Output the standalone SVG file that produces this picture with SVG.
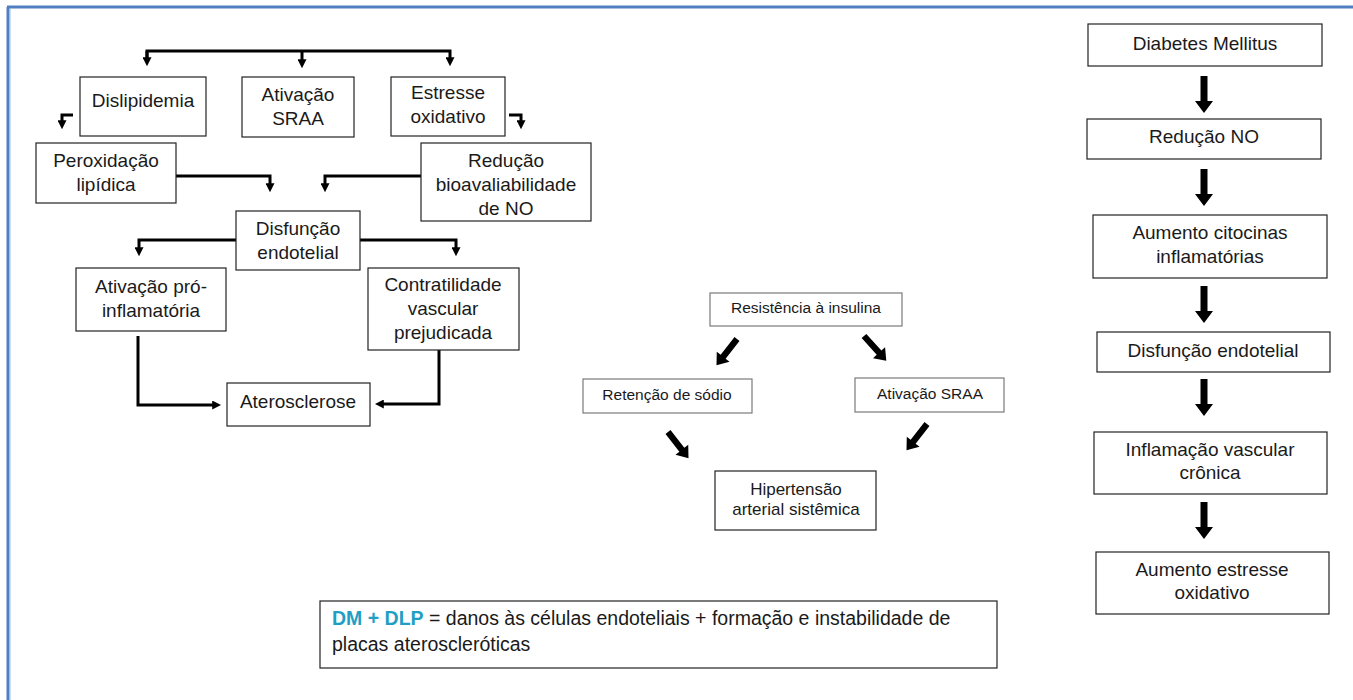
<svg xmlns="http://www.w3.org/2000/svg" xmlns:xlink="http://www.w3.org/1999/xlink" width="1353" height="700" viewBox="0 0 1353 700">
<style>
  .box { fill: #ffffff; stroke: #222222; stroke-width: 1.2; }
  .gbox { fill: #ffffff; stroke: #7a7a7a; stroke-width: 1.2; }
  .t { font-family: "Liberation Sans", Arial, sans-serif; font-size: 19px; fill: #1a1a1a; text-anchor: middle; }
  .ts { font-family: "Liberation Sans", Arial, sans-serif; font-size: 15.5px; fill: #1a1a1a; text-anchor: middle; }
  .tm { font-family: "Liberation Sans", Arial, sans-serif; font-size: 17px; fill: #1a1a1a; text-anchor: middle; }
  .tl { font-family: "Liberation Sans", Arial, sans-serif; font-size: 19.5px; fill: #1a1a1a; }
  .con { fill: none; stroke: #000000; stroke-width: 3; }
  .blk { fill: #000000; }
</style>
<defs>
  <marker id="ah" viewBox="0 0 10 10" refX="2" refY="5" markerWidth="9" markerHeight="9" markerUnits="userSpaceOnUse" orient="auto">
    <path d="M0,0 L10,5 L0,10 z" fill="#000"/>
  </marker>
  <polygon id="down" points="-3.5,0 3.5,0 3.5,25 9,25 0,37 -9,25 -3.5,25"/>
</defs>
<rect width="1353" height="700" fill="#ffffff"/>
<g id="frame">
  <line x1="8" y1="7" x2="8" y2="700" stroke="#4f7fc0" stroke-width="3"/>
  <line x1="7" y1="7" x2="1353" y2="7" stroke="#4f7fc0" stroke-width="3"/>
  <line x1="10" y1="9" x2="10" y2="700" stroke="#9dbde6" stroke-width="1"/>
</g>

<g id="connectors">
  <path class="con" d="M147,62 L147,51 L450,51 L450,59" marker-end="url(#ah)"/>
  <path class="con" d="M147,51 L147,59" marker-end="url(#ah)"/>
  <path class="con" d="M302,51 L302,61" marker-end="url(#ah)"/>
  <path class="con" d="M73,115 L62,115 L62,122" marker-end="url(#ah)"/>
  <path class="con" d="M509,115 L521,115 L521,122" marker-end="url(#ah)"/>
  <path class="con" d="M176,176 L270,176 L270,185" marker-end="url(#ah)"/>
  <path class="con" d="M421,176 L325,176 L325,185" marker-end="url(#ah)"/>
  <path class="con" d="M236,240 L139,240 L139,249" marker-end="url(#ah)"/>
  <path class="con" d="M360,240 L456,240 L456,249" marker-end="url(#ah)"/>
  <path class="con" d="M138,336 L138,405 L214,405" marker-end="url(#ah)"/>
  <path class="con" d="M439,350 L439,404 L382,404" marker-end="url(#ah)"/>
  <use xlink:href="#down" class="blk" transform="translate(737,339) rotate(38) scale(0.9)"/>
  <use xlink:href="#down" class="blk" transform="translate(864,336) rotate(-42) scale(0.9)"/>
  <use xlink:href="#down" class="blk" transform="translate(668,432) rotate(-38) scale(0.9)"/>
  <use xlink:href="#down" class="blk" transform="translate(927,424) rotate(38) scale(0.9)"/>
  <use xlink:href="#down" class="blk" transform="translate(1204,76)"/>
  <use xlink:href="#down" class="blk" transform="translate(1204,169)"/>
  <use xlink:href="#down" class="blk" transform="translate(1204,286)"/>
  <use xlink:href="#down" class="blk" transform="translate(1204,379)"/>
  <use xlink:href="#down" class="blk" transform="translate(1204,502)"/>
</g>

<g id="n-dislipidemia"><rect class="box" x="80" y="77" width="126" height="59"/><text class="t" x="143" y="107">Dislipidemia</text></g>
<g id="n-ativacao-sraa"><rect class="box" x="242" y="77" width="112" height="60"/><text class="t" x="298" y="101">Ativação</text><text class="t" x="298" y="125">SRAA</text></g>
<g id="n-estresse"><rect class="box" x="391" y="77" width="114" height="59"/><text class="t" x="448" y="99">Estresse</text><text class="t" x="448" y="123">oxidativo</text></g>
<g id="n-peroxidacao"><rect class="box" x="36" y="143" width="140" height="60"/><text class="t" x="106" y="167">Peroxidação</text><text class="t" x="106" y="191">lipídica</text></g>
<g id="n-reducao-bio"><rect class="box" x="421" y="143" width="170" height="78"/><text class="t" x="506" y="167">Redução</text><text class="t" x="506" y="191">bioavaliabilidade</text><text class="t" x="506" y="215">de NO</text></g>
<g id="n-disfuncao"><rect class="box" x="236" y="211" width="124" height="59"/><text class="t" x="298" y="235">Disfunção</text><text class="t" x="298" y="259">endotelial</text></g>
<g id="n-ativacao-pro"><rect class="box" x="76" y="268" width="150" height="63"/><text class="t" x="151" y="293">Ativação pró-</text><text class="t" x="151" y="317">inflamatória</text></g>
<g id="n-contratilidade"><rect class="box" x="368" y="268" width="151" height="82"/><text class="t" x="443" y="291">Contratilidade</text><text class="t" x="443" y="315">vascular</text><text class="t" x="443" y="339">prejudicada</text></g>
<g id="n-aterosclerose"><rect class="box" x="227" y="383" width="143" height="43"/><text class="t" x="298" y="408">Aterosclerose</text></g>

<g id="n-resistencia"><rect class="gbox" x="710" y="293" width="192" height="33"/><text class="ts" x="806" y="313">Resistência à insulina</text></g>
<g id="n-retencao"><rect class="gbox" x="583" y="379" width="169" height="34"/><text class="ts" x="667" y="400">Retenção de sódio</text></g>
<g id="n-ativacao-sraa2"><rect class="gbox" x="855" y="378" width="149" height="34"/><text class="ts" x="930" y="399">Ativação SRAA</text></g>
<g id="n-hipertensao"><rect class="box" x="715" y="471" width="161" height="59"/><text class="tm" x="796" y="495">Hipertensão</text><text class="tm" x="796" y="515">arterial sistêmica</text></g>

<g id="n-dm"><rect class="box" x="1088" y="24" width="234" height="42"/><text class="t" x="1205" y="50">Diabetes Mellitus</text></g>
<g id="n-reducao-no"><rect class="box" x="1087" y="119" width="234" height="40"/><text class="t" x="1204" y="143">Redução NO</text></g>
<g id="n-citocinas"><rect class="box" x="1093" y="215" width="234" height="63"/><text class="t" x="1210" y="239">Aumento citocinas</text><text class="t" x="1210" y="263">inflamatórias</text></g>
<g id="n-disfuncao2"><rect class="box" x="1097" y="332" width="233" height="40"/><text class="t" x="1213" y="357">Disfunção endotelial</text></g>
<g id="n-inflamacao"><rect class="box" x="1094" y="432" width="233" height="62"/><text class="t" x="1210" y="456">Inflamação vascular</text><text class="t" x="1210" y="479">crônica</text></g>
<g id="n-estresse2"><rect class="box" x="1096" y="552" width="233" height="62"/><text class="t" x="1212" y="576">Aumento estresse</text><text class="t" x="1212" y="599">oxidativo</text></g>

<g id="n-nota"><rect class="box" x="320" y="601" width="677" height="67"/>
  <text class="tl" x="332" y="625"><tspan fill="#1f9fc4" font-weight="bold">DM + DLP</tspan> = danos às células endoteliais + formação e instabilidade de</text>
  <text class="tl" x="332" y="651">placas ateroscleróticas</text>
</g>
</svg>
